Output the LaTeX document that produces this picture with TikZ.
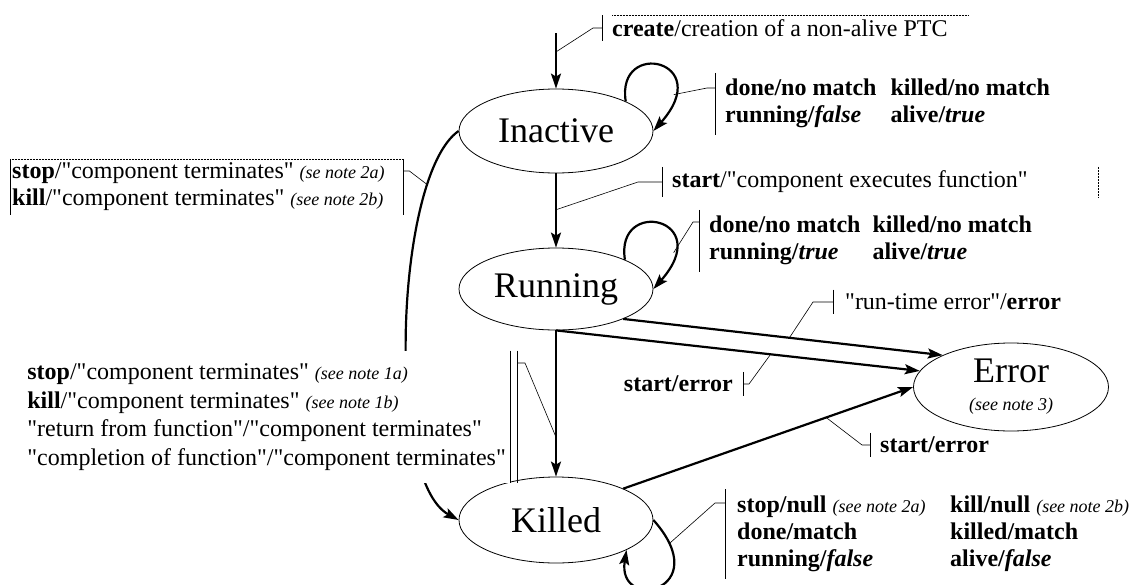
\documentclass[tikz,border=0pt]{standalone}
\usepackage{fontspec}
\setmainfont{Liberation Serif}[Ligatures=TeXOff]
\usetikzlibrary{shapes.geometric,arrows.meta}
\newcommand\labsize{\fontsize{24}{27}\selectfont}
\newcommand\notesize{\fontsize{18}{20}\selectfont\itshape}
\newcommand\statesize{\fontsize{36}{40}\selectfont}

\begin{document}
\begin{tikzpicture}[x=1pt,y=-1pt,
        state/.style={draw,ellipse,line width=0.8pt,inner sep=0pt,font=\statesize,
                      minimum width=194pt,minimum height=84pt},
        arr/.style={line width=2.2pt,-{Stealth[length=15pt,width=10pt,inset=3pt]}},
        lbl/.style={inner xsep=10pt,inner ysep=4pt,align=flush left,font=\labsize},
        bar/.style={line width=0.6pt},
        tick/.style={line width=0.6pt},
        frame/.style={line width=0.5pt,densely dotted}]
    \useasboundingbox (0,0) rectangle (1133,584);

    % states
    \node[state] (inact) at (556,131) {Inactive};
    \node[state,minimum height=82pt] (run) at (556,289) {Running};
    \node[state,minimum height=86pt] (kill) at (556,520) {Killed};
    \node[state,minimum width=195pt,minimum height=88pt,align=center] (err) at (1011,387)
        {Error\\[-12pt]{\notesize (see note 3)}};
    \coordinate (new) at (556,33);

    % transitions
    \draw[arr] (new) -- coordinate[pos=0.34] (tnew) (inact);
    \draw[arr] (inact) -- coordinate[pos=0.49] (tstart) (run);
    \draw[arr] (run) -- coordinate[pos=0.73] (tterm) (kill);
    \draw[arr] (run.-24) -- coordinate[pos=0.52] (trte) (err.155);
    \draw[arr] (run.south) -- coordinate[pos=0.59] (tse1) (err.170);
    \draw[arr] (kill.25) -- coordinate[pos=0.7] (tse2) (err.west);
    \draw[arr] (inact.west) .. controls (395,175) and (385,480) .. coordinate[pos=0.2] (tstop) (kill.west);
    \draw[arr] (inact.23) .. controls +(-10,-63) and +(63,-71) .. coordinate[pos=0.8] (tloop1) (inact.east);
    \draw[arr] (run.23) .. controls +(-10,-63) and +(63,-71) .. coordinate[pos=0.8] (tloop2) (run.east);
    \draw[arr] (kill.east) .. controls +(63,71) and +(-10,63) .. coordinate[pos=0.12] (tloop3) (kill.-23);

    % labels
    \node[lbl,anchor=west] (lnew) at (602,28) {\textbf{create}/creation of a non-alive PTC};
    \draw[bar] (lnew.north west) -- (lnew.south west);
    \draw[frame] ([xshift=10pt]lnew.north west) -- ([xshift=10pt]lnew.north east);
    \draw[tick] (tnew) -- ([xshift=-9pt]lnew.west) -- (lnew.west);

    \node[lbl,anchor=west] (linact) at (715,104) {\begin{tabular}{@{}l@{\hspace{14pt}}l@{}}
        \textbf{done/no match} & \textbf{killed/no match}\\
        \textbf{running/\textit{false}} & \textbf{alive/\textit{true}}\end{tabular}};
    \draw[bar] (linact.north west) -- (linact.south west);
    \draw[tick] (tloop1) -- ([shift={(-8pt,16pt)}]linact.west) -- ([yshift=16pt]linact.west);

    \node[lbl,anchor=west,inner xsep=2pt,text width=389pt] (lstop) at (10,187)
        {\textbf{stop}/"component terminates" {\notesize (se note 2a)}\\
         \textbf{kill}/"component terminates" {\notesize (see note 2b)}};
    \draw[bar] (lstop.north west) -- (lstop.south west);
    \draw[bar] (lstop.north east) -- (lstop.south east);
    \draw[frame] (lstop.north west) -- (lstop.north east);
    \draw[tick] (tstop) -- ([shift={(6pt,16pt)}]lstop.east) -- ([yshift=16pt]lstop.east);

    \node[lbl,anchor=west,text width=416pt] (lstart) at (662,182) {\textbf{start}/"component executes function"};
    \draw[bar] (lstart.north west) -- (lstart.south west);
    \draw[frame] (lstart.north east) -- (lstart.south east);
    \draw[tick] (tstart) -- ([xshift=-24pt]lstart.west) -- (lstart.west);

    \node[lbl,anchor=west] (lrun) at (699,241) {\begin{tabular}{@{}l@{\hspace{12pt}}l@{}}
        \textbf{done/no match} & \textbf{killed/no match}\\
        \textbf{running/\textit{true}} & \textbf{alive/\textit{true}}\end{tabular}};
    \draw[bar] (lrun.north west) -- (lrun.south west);
    \draw[tick] (tloop2) -- ([shift={(-6pt,19pt)}]lrun.west) -- ([yshift=19pt]lrun.west);

    \node[lbl,anchor=west,inner xsep=12pt] (lrte) at (833,302) {"run-time error"/\textbf{error}};
    \draw[bar] (lrte.north west) -- (lrte.south west);
    \draw[tick] (trte) -- ([xshift=-20pt]lrte.west) -- (lrte.west);

    \node[lbl,anchor=east,font=\labsize\bfseries] (lse1) at (743,384) {start/error};
    \draw[bar] (lse1.north east) -- (lse1.south east);
    \draw[tick] (tse1) -- ([xshift=6pt]lse1.east) -- (lse1.east);

    \node[lbl,anchor=east,inner xsep=4pt,inner ysep=13pt,fill=white,
          font=\fontsize{24}{28.5}\selectfont] (lterm) at (510,417)
        {\textbf{stop}/"component terminates" {\notesize (see note 1a)}\\
         \textbf{kill}/"component terminates" {\notesize (see note 1b)}\\
         "return from function"/"component terminates"\\
         "completion of function"/"component terminates"};
    \draw[bar] (lterm.north east) -- (lterm.south east);
    \draw[bar] ([xshift=7pt]lterm.north east) -- ([xshift=7pt]lterm.south east);
    \draw[tick] (tterm) -- ([shift={(15pt,54pt)}]lterm.east) -- ([shift={(7pt,54pt)}]lterm.east);

    \node[lbl,anchor=west,font=\labsize\bfseries] (lse2) at (870,445) {start/error};
    \draw[bar] (lse2.north west) -- (lse2.south west);
    \draw[tick] (tse2) -- ([xshift=-8pt]lse2.west) -- (lse2.west);

    \node[lbl,anchor=west,inner xsep=12pt] (lkill) at (725,534) {\begin{tabular}{@{}p{213pt}@{}l@{}}
        \textbf{stop/null} {\notesize (see note 2a)} & \textbf{kill/null} {\notesize (see note 2b)}\\
        \textbf{done/match} & \textbf{killed/match}\\
        \textbf{running/\textit{false}} & \textbf{alive/\textit{false}}\end{tabular}};
    \draw[bar] (lkill.north west) -- (lkill.south west);
    \draw[tick] (tloop3) -- ([shift={(-10pt,31pt)}]lkill.west) -- ([yshift=31pt]lkill.west);
\end{tikzpicture}
\end{document}
